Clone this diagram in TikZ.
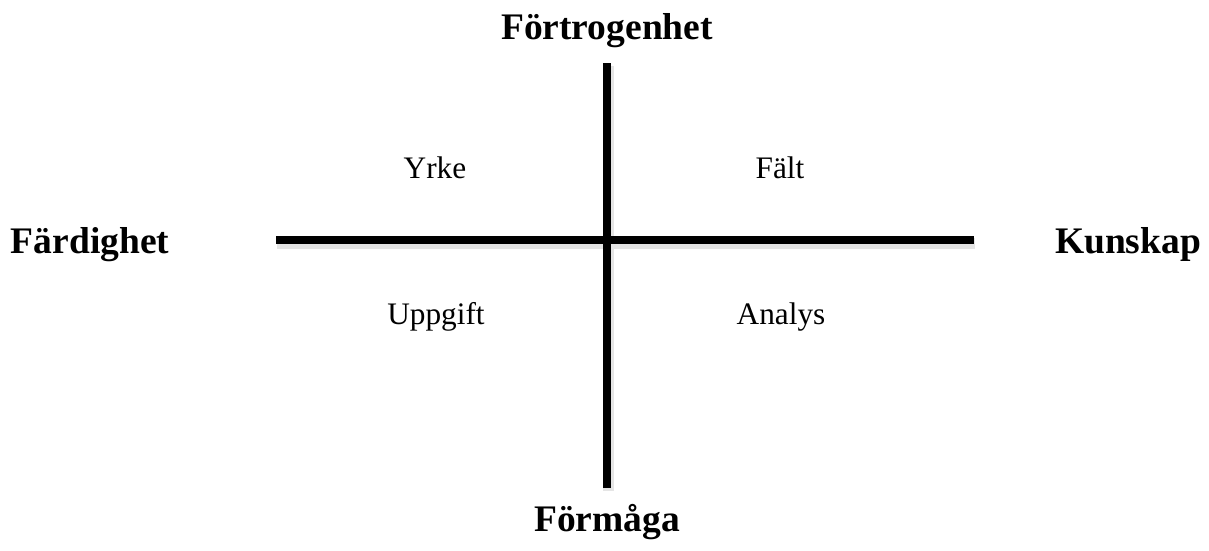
\documentclass[tikz,border=0pt]{standalone}
\usepackage{fontspec}
\setmainfont{Liberation Serif}
\begin{document}
\begin{tikzpicture}[x=1pt,y=-1pt,
  axislabel/.style={font=\fontsize{37.5}{42}\selectfont\bfseries, anchor=base, inner sep=0pt},
  quadlabel/.style={font=\fontsize{31.3}{35}\selectfont, anchor=base, inner sep=0pt},
  axisline/.style={line width=8pt, black},
  axisshadow/.style={line width=11pt, black!10}]
\useasboundingbox (0,0) rectangle (1209,550);
% axis end points
\coordinate (top) at (607,63);
\coordinate (bottom) at (607,488);
\coordinate (left) at (276,240);
\coordinate (right) at (974,240);
% soft shadows
\draw[axisshadow] ([shift={(1,3)}]top) -- ([shift={(1,3)}]bottom);
\draw[axisshadow] ([shift={(1,3)}]left) -- ([shift={(1,3)}]right);
% axes
\draw[axisline] (top) -- (bottom);
\draw[axisline] (left) -- (right);
% axis labels
\node[axislabel] (fortrogenhet) at (607,39) {Förtrogenhet};
\node[axislabel] (formaga) at (607,531) {Förmåga};
\node[axislabel] (fardighet) at (90,253) {Färdighet};
\node[axislabel] (kunskap) at (1128,253) {Kunskap};
% quadrant labels
\node[quadlabel] (yrke) at (435,178) {Yrke};
\node[quadlabel] (falt) at (780,178) {Fält};
\node[quadlabel] (uppgift) at (436,324) {Uppgift};
\node[quadlabel] (analys) at (781,324) {Analys};
\end{tikzpicture}
\end{document}
